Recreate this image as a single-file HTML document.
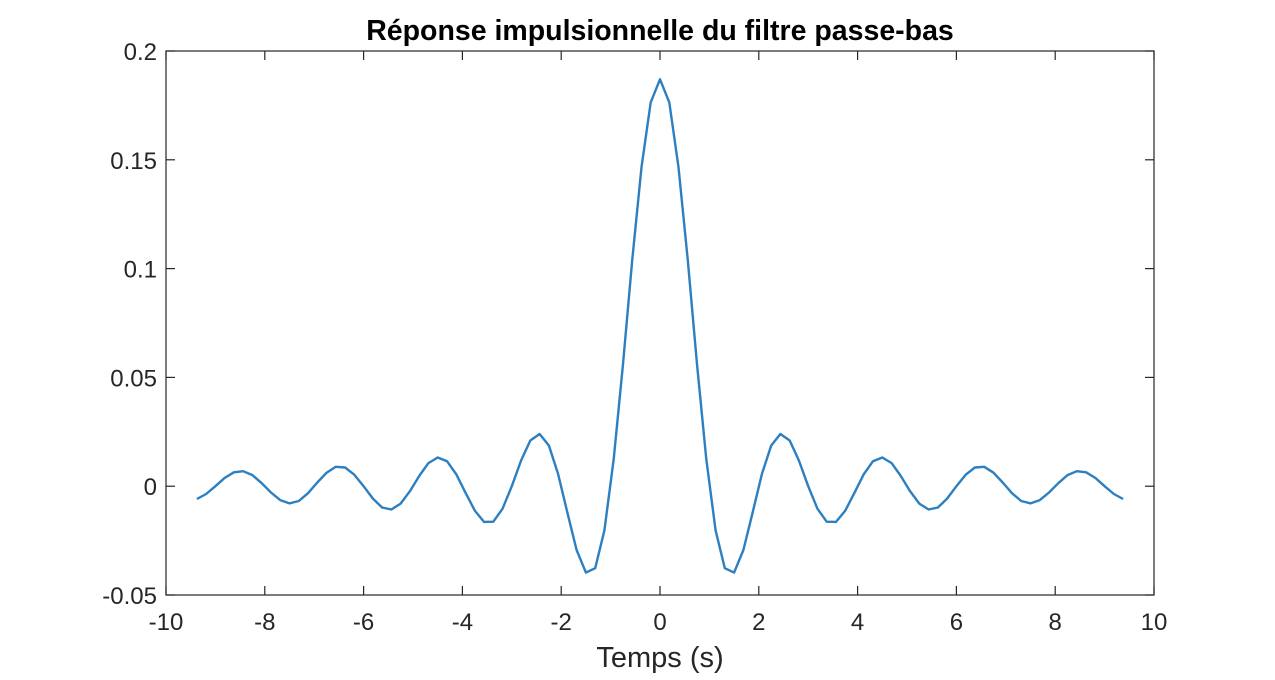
<!DOCTYPE html>
<html><head><meta charset="utf-8"><style>
body{margin:0;background:#fff;}
svg text{font-family:"Liberation Sans",sans-serif;fill:#262626;}
</style></head><body>
<svg id="chart" width="1275" height="675" xmlns="http://www.w3.org/2000/svg">
<rect width="1275" height="675" fill="#fff"/>
<text x="660" y="40" text-anchor="middle" font-size="28.5" font-weight="bold" style="fill:#000">Réponse impulsionnelle du filtre passe-bas</text>
<g id="axes"></g>
<text x="660" y="667" text-anchor="middle" font-size="29">Temps (s)</text>
</svg>
<script>
const xTicks=[-10,-8,-6,-4,-2,0,2,4,6,8,10];
const yTicks=[-0.05,0,0.05,0.1,0.15,0.2];
const yTickLabels=["-0.05","0","0.05","0.1","0.15","0.2"];
const dt=0.1875;
const values=[-0.0059,-0.0036,0,0.0038,0.0064,0.0069,0.0051,0.0014,-0.0029,-0.0064,-0.0079,-0.0068,-0.0032,0.0017,0.0062,0.0089,0.0086,0.0053,0,-0.0057,-0.0098,-0.0107,-0.0080,-0.0023,0.0047,0.0106,0.0132,0.0115,0.0055,-0.0030,-0.0112,-0.0164,-0.0163,-0.0104,0,0.0118,0.0210,0.0240,0.0187,0.0056,-0.0122,-0.0293,-0.0397,-0.0377,-0.0203,0.0124,0.0561,0.1038,0.1466,0.1764,0.187,0.1764,0.1466,0.1038,0.0561,0.0124,-0.0203,-0.0377,-0.0397,-0.0293,-0.0122,0.0056,0.0187,0.0240,0.0210,0.0118,0,-0.0104,-0.0163,-0.0164,-0.0112,-0.0030,0.0055,0.0115,0.0132,0.0106,0.0047,-0.0023,-0.0080,-0.0107,-0.0098,-0.0057,0,0.0053,0.0086,0.0089,0.0062,0.0017,-0.0032,-0.0068,-0.0079,-0.0064,-0.0029,0.0014,0.0051,0.0069,0.0064,0.0038,0,-0.0036,-0.0059];
const L=166,R=1154,T=51,B=595;
const xs=v=>L+(v+10)/20*(R-L);
const ys=v=>B-(v+0.05)/0.25*(B-T);
const NS="http://www.w3.org/2000/svg";
const g=document.getElementById('axes');
function mk(t,a){const e=document.createElementNS(NS,t);for(const k in a)e.setAttribute(k,a[k]);g.appendChild(e);return e;}
let d="";
values.forEach((v,i)=>{const t=(i-(values.length-1)/2)*dt;d+=(i?"L":"M")+xs(t).toFixed(1)+","+ys(v).toFixed(1);});
const line=mk('path',{d:d,fill:'none',stroke:'#2c7fc0','stroke-width':2.4,'stroke-linejoin':'round'});


const box=mk('rect',{x:L,y:T,width:R-L,height:B-T,fill:'none',stroke:'#262626','stroke-width':1.2});


xTicks.forEach(v=>{const x=xs(v);
 mk('line',{x1:x,x2:x,y1:B,y2:B-9,stroke:'#262626','stroke-width':1.2});
 mk('line',{x1:x,x2:x,y1:T,y2:T+9,stroke:'#262626','stroke-width':1.2});
 const t=mk('text',{x:x,y:B+35,'text-anchor':'middle','font-size':24});t.textContent=String(v);
 
 
});
yTicks.forEach((v,i)=>{const y=ys(v);
 mk('line',{x1:L,x2:L+9,y1:y,y2:y,stroke:'#262626','stroke-width':1.2});
 mk('line',{x1:R,x2:R-9,y1:y,y2:y,stroke:'#262626','stroke-width':1.2});
 const t=mk('text',{x:L-9,y:y+9,'text-anchor':'end','font-size':24});t.textContent=yTickLabels[i];
 
 
});
</script>
</body></html>
